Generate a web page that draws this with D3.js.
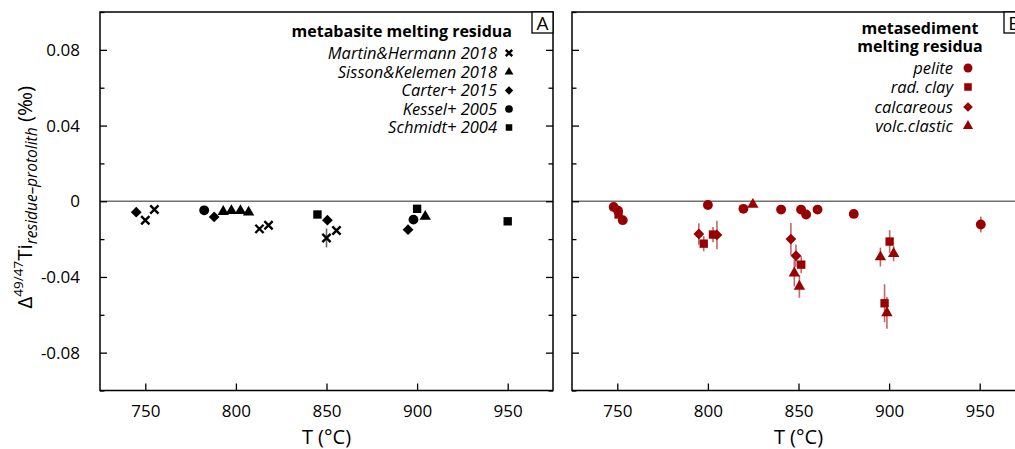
<!DOCTYPE html>
<html>
<head>
<meta charset="utf-8">
<script src="https://cdn.jsdelivr.net/npm/d3@7"></script>
<style>
  html, body { margin: 0; padding: 0; background: #fff; }
  svg { display: block; font-family: "Open Sans", "Noto Sans", sans-serif; }
</style>
</head>
<body>
<svg id="chart" width="1015" height="449"></svg>
<script>
// ---- data: temperature (°C), Δ49/47Ti residue–protolith (‰), optional 2SD error ----
const tempTicks = [750, 800, 850, 900, 950];
const deltaTicks = [-0.08, -0.04, 0, 0.04, 0.08];
const deltaMinorTicks = [-0.1, -0.06, -0.02, 0.02, 0.06, 0.1];
const deltaTickLabels = ["-0.08", "-0.04", "0", "0.04", "0.08"];

// metabasite melting residua
const martinHermann2018 = [
  { t: 750, v: -0.010 }, { t: 755, v: -0.0044 }, { t: 813, v: -0.0146 },
  { t: 818, v: -0.0127 }, { t: 850, v: -0.0194, e: 0.005 }, { t: 855.5, v: -0.0155 }
];
const sissonKelemen2018 = [
  { t: 793, v: -0.0055 }, { t: 797.5, v: -0.005 }, { t: 802.5, v: -0.005 },
  { t: 807, v: -0.0058 }, { t: 904.5, v: -0.0081 }
];
const carter2015 = [
  { t: 745, v: -0.0058 }, { t: 788, v: -0.0083 }, { t: 850.5, v: -0.010 }, { t: 895, v: -0.015 }
];
const kessel2005 = [ { t: 782.5, v: -0.0048 }, { t: 898, v: -0.0097 } ];
const schmidt2004 = [ { t: 845, v: -0.007 }, { t: 900, v: -0.004 }, { t: 950, v: -0.0106 } ];

// metasediment melting residua
const pelite = [
  { t: 748, v: -0.003 }, { t: 750.4, v: -0.005 }, { t: 753, v: -0.010 }, { t: 800, v: -0.002 },
  { t: 819.6, v: -0.004 }, { t: 840.4, v: -0.0044 }, { t: 851.4, v: -0.0044 }, { t: 854.2, v: -0.007 },
  { t: 860.5, v: -0.0044 }, { t: 880.5, v: -0.0067 }, { t: 950.6, v: -0.0123, e: 0.0042 }
];
const radClay = [
  { t: 750.7, v: -0.007 }, { t: 797.7, v: -0.0224, e: 0.004 }, { t: 802.8, v: -0.0176, e: 0.004 },
  { t: 851.5, v: -0.0335, e: 0.0045 }, { t: 900.3, v: -0.0213, e: 0.006 }, { t: 897.5, v: -0.0539, e: 0.010 }
];
const calcareous = [
  { t: 795, v: -0.0173, e: 0.0057 }, { t: 805, v: -0.0178, e: 0.0075 },
  { t: 845.8, v: -0.020, e: 0.0085 }, { t: 848.6, v: -0.0288, e: 0.006 }
];
const volcClastic = [
  { t: 824.8, v: -0.0017 }, { t: 847.7, v: -0.038, e: 0.007 }, { t: 850.5, v: -0.045, e: 0.006 },
  { t: 895.2, v: -0.0295, e: 0.005 }, { t: 902.5, v: -0.0277, e: 0.004 }, { t: 898.8, v: -0.059, e: 0.0084 }
];

// ---- marker shapes ----
const diamondType = { draw(ctx, size) { const r = Math.sqrt(size / 2);
  ctx.moveTo(0, -r); ctx.lineTo(r, 0); ctx.lineTo(0, r); ctx.lineTo(-r, 0); ctx.closePath(); } };
const timesType = { draw(ctx, size) { const r = Math.sqrt(size) / 2;
  ctx.moveTo(-r, -r); ctx.lineTo(r, r); ctx.moveTo(-r, r); ctx.lineTo(r, -r); } };
const shapes = {
  times: { type: timesType, size: 68, stroke: true },
  triangle: { type: d3.symbolTriangle, size: 56 },
  diamond: { type: diamondType, size: 58 },
  circle: { type: d3.symbolCircle, size: 76 },
  square: { type: d3.symbolSquare, size: 70 }
};

const panels = [
  {
    left: 100, label: "A", color: "#000", errColor: "rgba(0,0,0,0.6)",
    title: ["metabasite melting residua"], titleAnchor: "end", titleX: 512, titleY: [37],
    legendTextX: 497, legendSymX: 509, legendY: [53, 72, 90.5, 109, 127.5], legendScale: 0.78,
    series: [
      { name: "Martin&Hermann 2018", data: martinHermann2018, shape: "times" },
      { name: "Sisson&Kelemen 2018", data: sissonKelemen2018, shape: "triangle" },
      { name: "Carter+ 2015", data: carter2015, shape: "diamond" },
      { name: "Kessel+ 2005", data: kessel2005, shape: "circle" },
      { name: "Schmidt+ 2004", data: schmidt2004, shape: "square" }
    ],
    drawOrder: [2, 3, 1, 4, 0], yLabels: true
  },
  {
    left: 572, label: "B", color: "#990000", errColor: "rgba(153,0,0,0.6)",
    title: ["metasediment", "melting residua"], titleAnchor: "middle", titleX: 920, titleY: [34, 52],
    legendTextX: 953, legendSymX: 968, legendY: [68, 87, 107, 126], legendScale: 0.9,
    series: [
      { name: "pelite", data: pelite, shape: "circle" },
      { name: "rad. clay", data: radClay, shape: "square" },
      { name: "calcareous", data: calcareous, shape: "diamond" },
      { name: "volc.clastic", data: volcClastic, shape: "triangle" }
    ],
    drawOrder: [0, 1, 2, 3], yLabels: false
  }
];

const svg = d3.select("#chart");
const plotTop = 12, plotW = 453, plotH = 378.5;

const x = d3.scaleLinear().domain([725, 975]).range([0, plotW]);
const y = d3.scaleLinear().domain([-0.1, 0.1]).range([plotH, 0]);

function symbolPath(shape, scale = 1) {
  const s = shapes[shape];
  return d3.symbol().type(s.type).size(s.size * scale * scale)();
}
function styleMarker(sel, shape, color) {
  if (shapes[shape].stroke) sel.attr("fill", "none").attr("stroke", color).attr("stroke-width", 2.4);
  else sel.attr("fill", color).attr("stroke", "none");
}

panels.forEach(p => {
  const g = svg.append("g").attr("transform", `translate(${p.left},${plotTop})`);

  // zero line
  g.append("line").attr("x1", 0).attr("x2", plotW).attr("y1", y(0)).attr("y2", y(0))
    .attr("stroke", "#707070").attr("stroke-width", 1.6);

  // axes with inward ticks
  const xAxis = g.append("g").attr("transform", `translate(0,${plotH})`)
    .call(d3.axisBottom(x).tickValues(tempTicks).tickSize(-7).tickPadding(14).tickFormat(d3.format("d")));
  const yAxisL = g.append("g")
    .call(d3.axisLeft(y).tickValues(deltaTicks).tickSize(-7).tickPadding(20)
      .tickFormat((d, i) => p.yLabels ? deltaTickLabels[i] : ""));
  const yMinorL = g.append("g").call(d3.axisLeft(y).tickValues(deltaMinorTicks).tickSize(-4.5).tickFormat(""));
  const yAxisR = g.append("g").attr("transform", `translate(${plotW},0)`)
    .call(d3.axisRight(y).tickValues(deltaTicks).tickSize(-7).tickFormat(""));
  const yMinorR = g.append("g").attr("transform", `translate(${plotW},0)`)
    .call(d3.axisRight(y).tickValues(deltaMinorTicks).tickSize(-4.5).tickFormat(""));
  [xAxis, yAxisL, yMinorL, yAxisR, yMinorR].forEach(a => {
    a.select(".domain").remove();
    a.selectAll(".tick line").attr("stroke", "#000").attr("stroke-width", 1.3);
    a.selectAll(".tick text").attr("fill", "#000").attr("font-size", 17)
      .attr("font-family", "'Open Sans', sans-serif");
  });

  // frame
  g.append("rect").attr("x", 0).attr("y", 0).attr("width", plotW).attr("height", plotH)
    .attr("fill", "none").attr("stroke", "#000").attr("stroke-width", 1.5);

  // panel letter
  g.append("rect").attr("x", plotW - 21).attr("y", 0).attr("width", 21).attr("height", 21)
    .attr("fill", "#fff").attr("stroke", "#000").attr("stroke-width", 1.3);
  g.append("text").attr("x", plotW - 10.5).attr("y", 17.5).attr("text-anchor", "middle")
    .attr("font-size", 19).text(p.label);

  // error bars then markers
  p.drawOrder.forEach(i => {
    const s = p.series[i];
    g.append("g").selectAll("line").data(s.data.filter(d => d.e)).join("line")
      .attr("x1", d => x(d.t)).attr("x2", d => x(d.t))
      .attr("y1", d => y(d.v - d.e)).attr("y2", d => y(d.v + d.e))
      .attr("stroke", p.errColor).attr("stroke-width", 1.6);
  });
  p.drawOrder.forEach(i => {
    const s = p.series[i];
    g.append("g").selectAll("path").data(s.data).join("path")
      .attr("transform", d => `translate(${x(d.t)},${y(d.v)})`)
      .attr("d", symbolPath(s.shape))
      .call(sel => styleMarker(sel, s.shape, p.color));
  });

  // x axis title
  g.append("text").attr("x", plotW / 2).attr("y", plotH + 53).attr("text-anchor", "middle")
    .attr("font-size", 20).text("T (°C)");

  // legend
  p.title.forEach((t, k) => {
    svg.append("text").attr("x", p.titleX).attr("y", p.titleY[k]).attr("text-anchor", p.titleAnchor)
      .attr("font-size", 16).attr("font-weight", "bold").text(t);
  });
  p.series.forEach((s, k) => {
    svg.append("text").attr("x", p.legendTextX).attr("y", p.legendY[k]).attr("dy", "0.35em")
      .attr("text-anchor", "end").attr("font-size", 16.5).attr("font-style", "italic").text(s.name);
    svg.append("path").attr("transform", `translate(${p.legendSymX},${p.legendY[k]})`)
      .attr("d", symbolPath(s.shape, p.legendScale))
      .call(sel => styleMarker(sel, s.shape, p.color));
  });
});

// y axis title
const yt = svg.append("text").attr("transform", `translate(32,${plotTop + y(0) - 4}) rotate(-90)`)
  .attr("text-anchor", "middle").attr("font-size", 20.5);
yt.append("tspan").text("Δ");
yt.append("tspan").attr("dy", -9).attr("font-size", 13.5).text("49/47");
yt.append("tspan").attr("dy", 9).text("Ti");
yt.append("tspan").attr("dy", 5).attr("font-size", 15.5).attr("font-style", "italic").text("residue–protolith");
yt.append("tspan").attr("dy", -5).text(" (‰)");
</script>
</body>
</html>
